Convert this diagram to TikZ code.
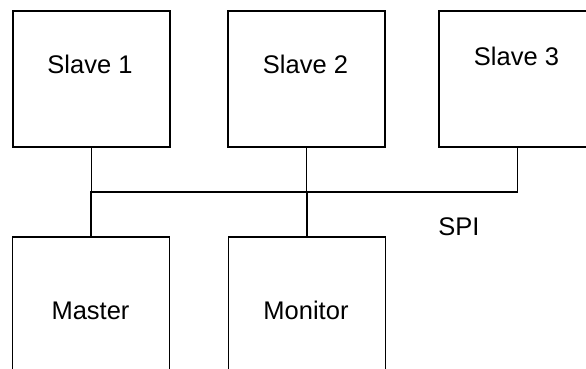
\documentclass[tikz,border=0pt]{standalone}
\usepackage{fontspec}
\setmainfont{Liberation Sans}
\usepackage{tikz}
\tikzset{
  unit/.style={draw=black, line width=1.4pt, minimum width=157pt, minimum height=136pt, inner sep=0pt},
  wire/.style={draw=black, line width=1.4pt, line cap=rect},
  lab/.style={font=\fontsize{25.5}{30}\selectfont, anchor=base, inner sep=0pt},
}

\begin{document}
\begin{tikzpicture}[x=1pt, y=-1pt]
  \useasboundingbox (0,0) rectangle (586,369);
  \clip (0,0) rectangle (586,369);

  % slaves on top
  \node[unit] (S1) at (91.5,79) {};
  \node[unit] (S2) at (306.5,79) {};
  \node[unit] (S3) at (517.5,79) {};
  \node[lab] (s1lab) at (90,74) {Slave 1};
  \node[lab] (s2lab) at (305.5,74) {Slave 2};
  \node[lab] (s3lab) at (516.5,66) {Slave 3};

  % master and monitor below
  \node[unit] (M) at (91,305) {};
  \node[unit] (Mon) at (307,305) {};
  \node[lab] (mlab) at (90.5,319) {Master};
  \node[lab] (monlab) at (306,319) {Monitor};

  % the SPI bus
  \coordinate (busL) at (91,192);
  \draw[wire] (S3.south) |- (busL);
  \draw[wire] (S1.south) -- (S1.south |- busL);
  \draw[wire] (S2.south) -- (S2.south |- busL);
  \draw[wire] (M.north) -- (M.north |- busL);
  \draw[wire] (Mon.north) -- (Mon.north |- busL);
  \node[lab] (spi) at (459,235) {SPI};
\end{tikzpicture}
\end{document}
